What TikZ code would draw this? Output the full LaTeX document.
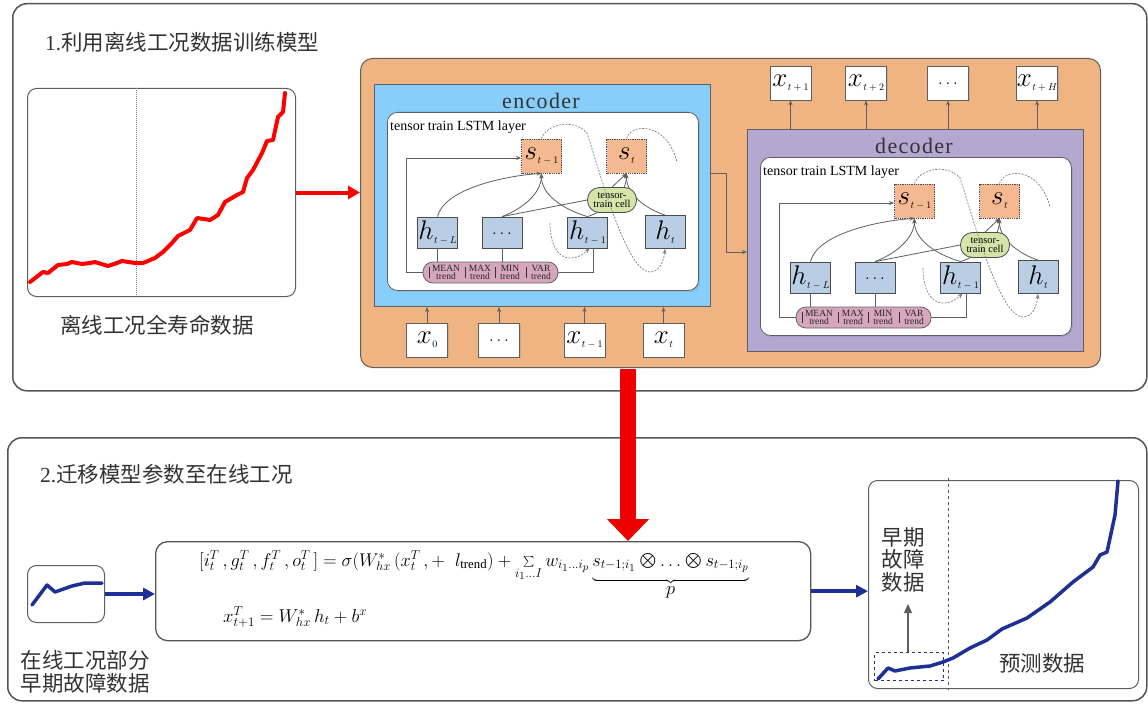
\documentclass[tikz,border=0pt]{standalone}
\usepackage{graphicx}
\usepackage{fontspec}
\setmainfont{Liberation Serif}
\newfontfamily\cjk{Noto Sans CJK SC}
\newfontfamily\spaced{Liberation Serif}[LetterSpace=6]
\usetikzlibrary{arrows.meta,shadows,calc}

\definecolor{framegray}{HTML}{555555}
\definecolor{linegray}{HTML}{5F5F5F}
\definecolor{orangefill}{RGB}{240,180,131}
\definecolor{encfill}{RGB}{135,206,250}
\definecolor{decfill}{RGB}{180,167,208}
\definecolor{sfill}{RGB}{244,185,145}
\definecolor{hfill}{RGB}{185,205,228}
\definecolor{cellfill}{RGB}{214,228,170}
\definecolor{barfill}{RGB}{214,165,190}
\definecolor{darkblue}{RGB}{30,48,150}
\definecolor{txtgray}{HTML}{333333}
\definecolor{bigred}{RGB}{238,0,0}

\newcommand{\vl}[2]{{\fontsize{20.74}{20}\selectfont\scalebox{1.3}{$#1$}}\kern0.5pt\raisebox{-4pt}{\fontsize{10}{10}\selectfont$#2$}}
\newcommand{\dts}{\raisebox{-3pt}{\fontsize{17.28}{17}\selectfont$\ldots$}}

\tikzset{
  outerframe/.style={draw=framegray, line width=1.5pt, rounded corners=14pt, anchor=north west, inner sep=0pt},
  chartbox/.style={draw=linegray, line width=1pt, rounded corners=9pt, fill=white, anchor=north west, inner sep=0pt},
  conn/.style={draw=linegray, line width=0.8pt},
  arr/.style={-{Stealth[length=5pt,width=4pt]}},
  dsh/.style={draw=gray, line width=0.7pt, dash pattern=on 2pt off 1.3pt},
  sbox/.style={draw=black!70, densely dotted, line width=0.8pt, fill=sfill, minimum width=40pt, minimum height=34pt, inner sep=0pt},
  hbox/.style={draw=black!70, line width=0.8pt, fill=hfill, minimum width=40pt, minimum height=31pt, inner sep=0pt},
  xbox/.style={draw=linegray, line width=0.8pt, fill=white, minimum width=41pt, minimum height=34pt, inner sep=0pt, drop shadow={opacity=0.25, shadow xshift=1pt, shadow yshift=-1pt}},
  cellst/.style={draw=black!70, line width=0.8pt, fill=cellfill, rounded corners=12pt, minimum width=49pt, minimum height=25pt, inner sep=0pt, align=center, font=\fontsize{10.5}{8.5}\selectfont},
  barst/.style={draw=black!60, line width=0.8pt, fill=barfill, rounded corners=10pt, minimum width=135pt, minimum height=21pt, inner sep=0pt},
  bartxt/.style={font=\fontsize{9.5}{7.5}\selectfont, align=center, inner sep=0pt, text=black!85},
  cjktxt/.style={font=\cjk\fontsize{21.5}{23}\selectfont, text=txtgray, inner sep=0pt, align=center},
}

\newcommand{\ttblock}[5]{%
\begin{scope}[shift={(#2,#3)}]
\node[draw=linegray, line width=1pt, fill=#5, minimum width=336pt, minimum height=222pt, anchor=north west, inner sep=0pt] (#1box) at (0,0) {};
\node[font=\spaced\fontsize{22}{22}\selectfont, text=txtgray, inner sep=0pt] (#1title) at (167,17) {#4};
\node[draw=linegray, line width=0.8pt, fill=white, rounded corners=10pt, minimum width=311pt, minimum height=178pt, anchor=north west, inner sep=0pt, drop shadow={opacity=0.25, shadow xshift=1.5pt, shadow yshift=-1.5pt}] (#1panel) at (13,28) {};
\node[anchor=west, font=\fontsize{14}{14}\selectfont, inner sep=0pt] (#1layer) at (16,43) {tensor train LSTM layer};
\node[sbox] (#1s1) at (167.5,72) {\vl{s}{t-1}};
\node[sbox] (#1s2) at (252.5,72) {\vl{s}{t}};
\node[hbox] (#1hL) at (63.5,148.5) {\vl{h}{t-L}};
\node[hbox] (#1hd) at (128,148.5) {\dts};
\node[hbox] (#1h1) at (213.5,148.5) {\vl{h}{t-1}};
\node[hbox, minimum height=33pt] (#1ht) at (291,148) {\vl{h}{t}};
\node[barst] (#1bar) at (116.5,188.5) {};
\node[bartxt] (#1b1) at (72,188.5) {MEAN\\trend};
\node[bartxt] (#1b2) at (106,188.5) {MAX\\trend};
\node[bartxt] (#1b3) at (136,188.5) {MIN\\trend};
\node[bartxt] (#1b4) at (167,188.5) {VAR\\trend};
\foreach \bx in {55,91,121,152} {\draw[black!80, line width=0.9pt] (\bx,183) -- (\bx,194);}
\coordinate (#1lp) at (32,74);
\draw[conn, arr] (#1bar.west) -| (#1lp) -- (#1lp -| #1s1.west);
\draw[conn] (#1bar.east) -| ([xshift=6pt]#1h1.south);
\draw[conn] (#1hL.south) -- (#1hL.south |- #1bar.north);
\draw[conn] (#1hd.south) -- (#1hd.south |- #1bar.north);
\draw[conn, arr] (#1hL.north) .. controls (70,105) and (130,92) .. (#1s1.south);
\draw[conn, arr] (#1hd.north) .. controls (148,125) and (167,110) .. (#1s1.south);
\draw[conn, arr] (#1h1.north) .. controls (188,125) and (167,110) .. (#1s1.south);
\draw[conn, arr] (#1h1.north) .. controls (236,125) and (252,110) .. (#1s2.south);
\draw[conn, arr] (#1ht.north) .. controls (272,125) and (252,110) .. (#1s2.south);
\node[cellst] (#1cell) at (238,116) {tensor-\\train cell};
\draw[conn] (#1hd.north) -- (#1cell.west);
\draw[conn, arr] (#1cell.north) -- (#1s2.south);
\coordinate (#1da) at (213,49);
\coordinate (#1db) at (276,188);
\coordinate (#1dc) at (303,78);
\coordinate (#1dd) at (176,139);
\draw[dsh, arr] (#1s1.north) .. controls (172,40) and (200,34) .. (#1da) .. controls (225,85) and (252,188) .. (#1db) .. controls (286,188) and (290,176) .. (#1ht.south);
\draw[dsh] (#1s2.north) .. controls (256,40) and (292,36) .. (#1dc);
\draw[dsh, arr] (#1dd) .. controls (176,176) and (198,181) .. ([xshift=2pt]#1h1.south);
\end{scope}}

\begin{document}
\begin{tikzpicture}[x=1pt,y=-1pt]
\useasboundingbox (0,0) rectangle (1148,706);
\fill[white] (0,0) rectangle (1148,706);

% frames
\node[outerframe, minimum width=1134pt, minimum height=387pt] (fr1) at (12,3) {};
\node[outerframe, minimum width=1139pt, minimum height=263pt] (fr2) at (7,437) {};
\node[cjktxt, anchor=west] (t1) at (45,42) {{\rmfamily 1.}利用离线工况数据训练模型};
\node[cjktxt, anchor=west] (t2) at (40,474) {{\rmfamily 2.}迁移模型参数至在线工况};

% chart 1
\node[chartbox, minimum width=268pt, minimum height=208pt] (chart1) at (27,88) {};
\draw[densely dotted, gray, line width=1pt] (136,88) -- (136,296);
\draw[red, line width=4pt, line join=round, line cap=round] (30,282) -- (43,272) -- (48,273) -- (58,265) -- (67,264) -- (72,262) -- (82,264) -- (90,263) -- (95,262) -- (108,266) -- (117,263) -- (122,261) -- (135,263) -- (143,263) -- (155,258) -- (163,252) -- (172,243) -- (178,236) -- (190,230) -- (197,218) -- (210,220) -- (218,215) -- (225,202) -- (237,195) -- (243,192) -- (247,178) -- (253,170) -- (262,153) -- (267,141) -- (273,140) -- (278,117) -- (283,112) -- (285,93);
\node[cjktxt] (l1) at (157,325) {离线工况全寿命数据};

% orange container
\node[draw=linegray, line width=1pt, fill=orangefill, rounded corners=12pt, minimum width=740pt, minimum height=309pt, anchor=north west, inner sep=0pt] (orange) at (360,58) {};
\draw[red, line width=4pt, -{Triangle[length=12pt,width=13pt]}] (chart1.east) -- (chart1.east -| orange.west);

\ttblock{e}{374}{84}{encoder}{encfill}
\ttblock{d}{747}{129}{decoder}{decfill}

% encoder -> decoder
\coordinate (ed1) at (726,173);
\coordinate (ed2) at (747,252);
\draw[conn, arr] (ed1 -| ebox.east) -- (ed1) |- (ed2);

% inputs
\node[xbox] (in0) at (427,340) {\vl{x}{0}};
\node[xbox] (in1) at (499,340) {\dts};
\node[xbox] (in2) at (584.5,340) {\vl{x}{t-1}};
\node[xbox] (in3) at (663.5,340) {\vl{x}{t}};
\foreach \n in {in0,in1,in2,in3} {\draw[conn, arr] (\n.north) -- (\n.north |- ebox.south);}

% outputs
\node[xbox] (out1) at (790.5,83) {\vl{x}{t+1}};
\node[xbox] (out2) at (866,83) {\vl{x}{t+2}};
\node[xbox] (out3) at (948,83) {\dts};
\node[xbox] (out4) at (1037,83) {\vl{x}{t+H}};
\foreach \n in {out1,out2,out3,out4} {\draw[conn, arr] (dbox.north -| \n.south) -- (\n.south);}

% bottom part
\node[chartbox, minimum width=77pt, minimum height=57pt] (chart2) at (27,565) {};
\draw[darkblue, line width=3.5pt, line join=round, line cap=round] (32,605) -- (47,585) -- (55,592) -- (72,586) -- (85,583) -- (102,583);
\node[cjktxt] (l2) at (85,671.5) {在线工况部分\\早期故障数据};

\node[draw=framegray, line width=1.3pt, rounded corners=12pt, fill=white, minimum width=655pt, minimum height=99pt, anchor=north west, inner sep=0pt] (fbox) at (155,541) {};
\node[anchor=base west, font=\fontsize{17.28}{18}\selectfont, inner sep=0pt] (f1) at (199,566) {\scalebox{1.065}{$[i^{T}_{t}\,, g^{T}_{t}\,, f^{T}_{t}\,, o^{T}_{t}\,] = \sigma(W^{*}_{hx}\,(x^{T}_{t}\,, +\;\; l_{\mathrm{trend}}) + \sum\limits_{i_1\ldots I} w_{i_1\ldots i_p}\underbrace{\rule[-10pt]{0pt}{1pt}s_{t-1;i_1}\mathbin{\bigotimes}\ldots\mathbin{\bigotimes} s_{t-1;i_p}}_{\textstyle p}$}};
\node[anchor=base west, font=\fontsize{17.28}{18}\selectfont, inner sep=0pt] (f2) at (223,622) {\scalebox{1.08}{$x^{T}_{t+1} = W^{*}_{hx}\,h_t + b^{x}$}};

\draw[darkblue, line width=3.5pt, -{Triangle[length=12pt,width=12pt]}] (chart2.east) -- (chart2.east -| fbox.west);

\node[chartbox, minimum width=270pt, minimum height=208pt] (chart3) at (868,480) {};
\draw[darkblue, line width=3.5pt, -{Triangle[length=12pt,width=12pt]}] (fbox.east) -- (fbox.east -| chart3.west);
\draw[dashed, framegray, line width=1pt] (948,478) -- (948,690);
\draw[darkblue, line width=3.5pt, line join=round, line cap=round] (878,679) -- (888,668) -- (895,671) -- (910,668) -- (930,666) -- (943,662) -- (953,658) -- (970,648) -- (987,640) -- (1002,629) -- (1027,618) -- (1050,602) -- (1073,582) -- (1093,567) -- (1100,555) -- (1107,552) -- (1115,515) -- (1118,481);
\node[draw=darkblue, dashed, line width=1.2pt, minimum width=69pt, minimum height=28pt, anchor=north west, inner sep=0pt] (early) at (874,652) {};
\coordinate (eup) at (908,604);
\draw[linegray, line width=1.2pt, -{Triangle[length=9pt,width=8pt]}] (early.north -| eup) -- (eup);
\node[cjktxt, font=\cjk\fontsize{21.5}{22.5}\selectfont] (l3) at (903,559.5) {早期\\故障\\数据};
\node[cjktxt] (l4) at (1042,663) {预测数据};

% big red arrow
\coordinate (rtop) at (628,369);
\draw[bigred, line width=16pt, -{Triangle[length=22pt,width=41pt]}] (rtop) -- (rtop |- fbox.north);
\end{tikzpicture}
\end{document}
